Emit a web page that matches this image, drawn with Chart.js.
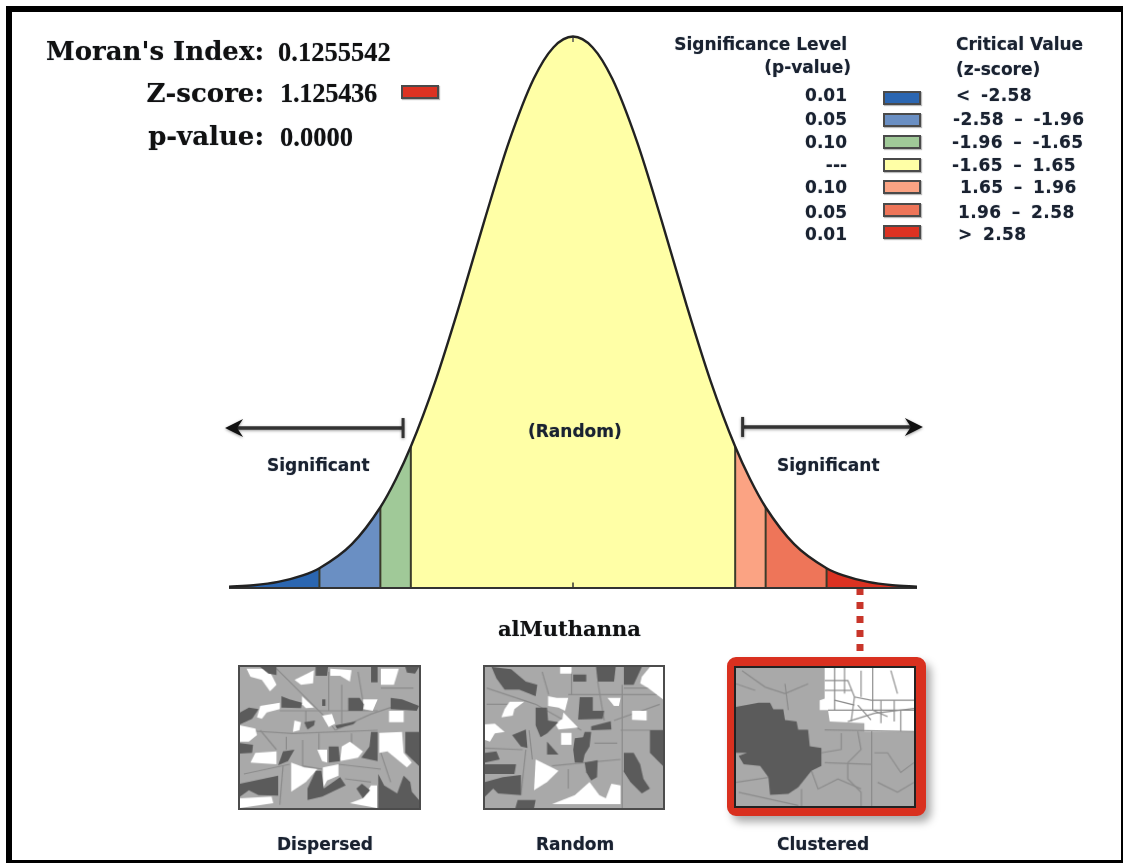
<!DOCTYPE html>
<html>
<head>
<meta charset="utf-8">
<title>Moran's Index</title>
<script src="https://cdn.jsdelivr.net/npm/chart.js@4"></script>
<style>
  html, body { margin: 0; padding: 0; background: #fff; }
  body { width: 1123px; height: 863px; position: relative; overflow: hidden; }
  #frame { position: absolute; left: 6px; top: 6px; width: 1109px; height: 848px; border: solid #000; border-width: 6px 2px 3px 6px; z-index: 3; pointer-events: none; }
  #curve { position: absolute; left: 0; top: 0; }
  .t { position: absolute; white-space: pre; line-height: 1; color: #1a2230; z-index: 2; text-shadow: 0 0 1px rgba(40,60,90,.55); }
  .sans { font: bold 17px "DejaVu Sans", sans-serif; }
  .row { letter-spacing: .4px; word-spacing: 4px; }
  .label { font: bold 26px "DejaVu Serif", serif; color: #111; }
  .num { font: bold 26.5px "Liberation Serif", serif; color: #111; }
  .sw { position: absolute; box-sizing: border-box; width: 38px; height: 14px; border: 2px solid #4a4a4a; box-shadow: 1px 1px 1px #bbb; z-index: 2; }
  .map { position: absolute; border: 2px solid #4c4c4c; z-index: 2; }
  #clusterBox { position: absolute; left: 727px; top: 657px; width: 199px; height: 159px; box-sizing: border-box; border: solid #d9301f; border-width: 9px 10px 8px 8px; border-radius: 9px; box-shadow: 5px 6px 8px #aaa; background: #fff; z-index: 1; }
</style>
</head>
<body>
<canvas id="curve" width="1123" height="863"></canvas>
<div id="frame"></div>
<div id="clusterBox"></div>
<canvas id="mapDispersed" class="map" style="left:238px;top:665px" width="183" height="145"></canvas>
<canvas id="mapRandom" class="map" style="left:483px;top:665px" width="182" height="145"></canvas>
<canvas id="mapClustered" class="map" style="left:734px;top:666px;border-color:#222" width="182" height="142"></canvas>
<script>
// curve, z-score against density
const zScores = [-3.5, -3.25, -3, -2.75, -2.58, -2.25, -1.96, -1.8, -1.65, -1.4, -1.15, -0.9, -0.65, -0.4, -0.2, 0, 0.2, 0.4, 0.65, 0.9, 1.15, 1.4, 1.65, 1.8, 1.96, 2.25, 2.58, 2.75, 3, 3.25, 3.5];
const density = [0.0009, 0.002, 0.0044, 0.0091, 0.0143, 0.0317, 0.0584, 0.079, 0.1023, 0.1497, 0.2059, 0.2661, 0.323, 0.3683, 0.391, 0.3989, 0.391, 0.3683, 0.323, 0.2661, 0.2059, 0.1497, 0.1023, 0.079, 0.0584, 0.0317, 0.0143, 0.0091, 0.0044, 0.002, 0.0009];

const zoneEdges = [-3.5, -2.58, -1.96, -1.65, 1.65, 1.96, 2.58, 3.5];
const zoneColors = ['#2b66b1', '#6a8fc3', '#a0c998', '#ffffa6', '#fba383', '#ee7559', '#dc3222'];

const pValues = ['0.01', '0.05', '0.10', '---', '0.10', '0.05', '0.01'];
const criticalValues = ['< -2.58', '-2.58 \u2013 -1.96', '-1.96 \u2013 -1.65', '-1.65 \u2013 1.65', '1.65 \u2013 1.96', '1.96 \u2013 2.58', '> 2.58'];

const markerZ = 2.92;
const markerDrop = [0, -0.0495];

// maps in crop coordinates
const dispersedWhite = [
  [[58,50],[125,50],[150,100],[130,120],[105,85],[70,75]],
  [[205,85],[265,55],[262,95],[225,100]],
  [[315,50],[380,55],[375,90],[345,72],[315,72]],
  [[470,50],[525,50],[510,100],[470,100]],
  [[228,135],[265,170],[240,172],[228,160]],
  [[415,145],[460,145],[445,180],[415,175]],
  [[100,165],[160,155],[160,175],[120,185],[105,205],[90,200]],
  [[495,180],[540,180],[540,215],[495,215]],
  [[290,195],[320,190],[330,220],[310,230]],
  [[205,210],[225,215],[220,240],[200,245]],
  [[38,225],[85,235],[90,255],[65,275],[38,275]],
  [[465,248],[535,245],[540,310],[565,340],[550,355],[490,305],[465,310]],
  [[350,290],[375,275],[395,290],[415,305],[400,325],[345,335]],
  [[85,310],[150,305],[150,345],[70,340]],
  [[275,300],[305,300],[305,340],[290,335]],
  [[195,340],[235,355],[275,360],[240,400],[195,430]],
  [[292,355],[340,345],[340,380],[305,395],[292,420]],
  [[38,450],[135,445],[140,465],[38,480]],
  [[440,410],[458,410],[458,480],[375,465],[415,450]]
];
const dispersedDark = [
  [[100,45],[150,45],[150,70],[125,65]],
  [[270,45],[308,45],[305,72],[270,72]],
  [[440,45],[460,45],[460,92],[440,92]],
  [[545,45],[587,45],[575,65],[550,62]],
  [[165,135],[190,145],[228,155],[225,172],[165,170]],
  [[290,145],[300,145],[300,165],[290,165]],
  [[370,140],[405,140],[418,160],[415,180],[368,180]],
  [[500,140],[535,145],[587,165],[580,180],[500,175]],
  [[38,185],[65,170],[95,175],[75,205],[38,222]],
  [[235,215],[268,210],[265,225],[245,238]],
  [[330,225],[395,212],[385,222],[335,235]],
  [[38,280],[78,285],[75,310],[38,312]],
  [[440,245],[460,245],[460,335],[410,325],[435,290]],
  [[545,245],[587,245],[587,350],[545,310]],
  [[170,305],[205,300],[185,335],[155,348]],
  [[310,290],[340,290],[345,335],[310,340]],
  [[38,405],[155,380],[155,442],[95,440],[65,425],[38,445]],
  [[270,365],[288,365],[295,420],[345,385],[362,410],[290,445],[245,455],[245,420]],
  [[395,420],[412,405],[437,425],[415,450]],
  [[462,375],[480,410],[520,435],[540,380],[560,400],[565,430],[587,455],[587,480],[462,480]]
];
const dispersedLines = [
  [[150,50],[230,130],[300,200],[330,240]], [[38,240],[200,250],[460,240]], [[310,60],[310,180]], [[400,60],[420,180]],
  [[330,240],[440,190],[500,170]], [[100,240],[150,300]], [[230,270],[230,350],[290,360]], [[180,260],[180,300]],
  [[50,375],[190,345]], [[170,350],[160,470]], [[340,345],[470,360]], [[360,390],[440,400]], [[280,250],[280,300]], [[380,250],[380,290]],
  [[160,180],[460,180]], [[350,100],[350,220]], [[240,180],[240,230]], [[470,110],[570,110]], [[470,310],[500,400]]
];

const randomWhite = [
  [[505,75],[530,45],[570,45],[570,145],[525,110],[500,95]],
  [[255,45],[290,45],[290,65],[255,65]],
  [[100,152],[145,152],[115,175],[110,195],[75,200],[85,175]],
  [[218,135],[245,140],[280,140],[270,180],[250,170],[218,165]],
  [[400,140],[440,140],[435,165],[420,165]],
  [[475,180],[520,180],[520,210],[475,208]],
  [[265,185],[310,232],[250,238],[240,220],[262,205]],
  [[25,222],[55,220],[85,245],[55,250],[40,275],[25,270]],
  [[258,248],[290,248],[290,285],[258,285]],
  [[180,330],[250,365],[215,400],[175,425]],
  [[230,468],[300,440],[345,400],[375,440],[395,450],[412,405],[440,410],[440,468]]
];
const randomDark = [
  [[45,45],[105,52],[150,90],[185,100],[180,135],[130,115],[85,115],[60,80]],
  [[295,68],[335,68],[335,90],[295,90]],
  [[365,45],[425,45],[420,90],[370,90]],
  [[450,45],[505,45],[480,100],[450,100]],
  [[315,138],[355,138],[355,180],[390,180],[385,205],[310,207]],
  [[180,170],[215,170],[218,210],[250,215],[215,250],[195,262],[180,225]],
  [[108,255],[150,238],[155,295],[135,290]],
  [[350,228],[410,212],[412,238],[350,240]],
  [[300,265],[325,262],[330,245],[350,245],[345,290],[330,315],[325,340],[300,340],[295,300]],
  [[215,275],[250,315],[215,315]],
  [[530,240],[570,240],[570,350],[530,310]],
  [[450,310],[480,310],[500,345],[510,390],[530,420],[505,435],[470,400],[448,365]],
  [[330,340],[370,332],[368,385],[350,395],[335,370]],
  [[25,310],[60,305],[70,330],[25,340]],
  [[25,345],[120,345],[115,375],[25,375]],
  [[25,400],[80,385],[135,378],[135,440],[65,435],[50,420],[25,445]],
  [[125,455],[180,455],[175,480],[118,480]]
];
const randomLines = [
  [[30,110],[180,160],[320,240]], [[25,295],[140,300]], [[445,100],[445,480]], [[290,60],[290,130]], [[370,90],[390,210]],
  [[420,210],[560,160]], [[150,300],[135,440]], [[230,350],[330,340],[440,330]], [[280,360],[280,420]], [[440,240],[570,240]], [[160,240],[170,330]],
  [[200,60],[220,130]], [[450,110],[565,110]], [[280,130],[560,130]], [[30,160],[100,160]], [[360,280],[430,280]]
];

const clusteredWhite = [
  [[330,52],[600,52],[600,245],[450,245],[450,220],[345,215],[340,180],[315,180],[315,150],[330,145]]
];
const clusteredDark = [
  [[62,170],[130,158],[165,158],[175,178],[205,178],[210,210],[245,215],[250,240],[280,240],[285,290],[320,295],[320,350],[290,365],[250,415],[220,435],[165,438],[160,385],[135,350],[85,345],[70,320],[95,310],[62,310]]
];
const clusteredLines = [
  [[330,90],[400,90],[420,140],[470,150],[600,150]], [[360,52],[360,180]], [[420,140],[410,215]], [[475,52],[475,180],[520,200]],
  [[340,180],[600,180]], [[500,150],[500,220]], [[560,180],[560,245]], [[400,215],[480,190],[600,175]], [[530,60],[550,130]],
  [[472,245],[472,472]], [[330,240],[600,245]], [[380,250],[380,300],[320,310]], [[330,340],[470,345]], [[400,340],[400,390],[440,430],[440,472]],
  [[290,365],[310,420],[370,390],[440,420]], [[480,310],[520,310],[560,370],[600,340]], [[490,400],[550,430],[600,400]], [[80,60],[150,110],[210,130],[280,100]],
  [[210,100],[220,180]], [[62,100],[120,120]], [[62,400],[160,385]], [[70,430],[160,450],[250,470]], [[260,420],[260,472]], [[430,245],[440,300],[400,340]],
  [[390,52],[390,130]], [[330,120],[410,120]], [[440,60],[440,140]], [[540,150],[540,215]], [[360,150],[420,165]], [[430,165],[470,210]]
];

function buildTexts() {
  const add = (txt, cls, x, y, align) => {
    const el = document.createElement('div');
    el.className = 't ' + cls;
    el.textContent = txt;
    el.style.top = y + 'px';
    if (align === 'right') el.style.right = (1123 - x) + 'px'; else el.style.left = x + 'px';
    document.body.appendChild(el);
  };
  add("Moran's Index:", 'label', 264, 36, 'right');
  add('Z-score:', 'label', 264, 78, 'right');
  add('p-value:', 'label', 264, 121, 'right');
  add('0.1255542', 'num', 278, 37);
  add('1.125436', 'num', 280, 78);
  document.body.lastChild.style.letterSpacing = '-0.3px';
  add('0.0000', 'num', 280, 122);
  add('Significance Level', 'sans', 847, 34, 'right');
  add('(p-value)', 'sans', 851, 57, 'right');
  add('Critical Value', 'sans', 956, 34);
  add('(z-score)', 'sans', 956, 59);
  add('(Random)', 'sans', 528, 421);
  add('Significant', 'sans', 267, 455);
  add('Significant', 'sans', 777, 455);
  add('Dispersed', 'sans', 277, 834);
  add('Random', 'sans', 536, 834);
  add('Clustered', 'sans', 777, 834);
  add('alMuthanna', 'label', 498, 616);
  document.body.lastChild.style.fontSize = '21px';

  const rowY = [85, 109, 132, 155, 177, 202, 224];
  const critX = [956, 953, 952, 952, 960, 958, 958];
  const swatchY = [91, 113, 135, 158, 180, 203, 225];
  pValues.forEach((p, i) => {
    add(p, 'sans', 847, rowY[i], 'right');
    add(criticalValues[i], 'sans row', critX[i], rowY[i]);
    const sw = document.createElement('div');
    sw.className = 'sw';
    sw.style.left = '883px';
    sw.style.top = swatchY[i] + 'px';
    sw.style.background = zoneColors[i];
    document.body.appendChild(sw);
  });
  const zs = document.createElement('div');
  zs.className = 'sw';
  zs.style.cssText = 'left:401px;top:85px;background:#dc3222';
  document.body.appendChild(zs);
}

function zonePoints(lo, hi) {
  const pts = [];
  zScores.forEach((z, i) => { if (z >= lo && z <= hi) pts.push({ x: z, y: density[i] }); });
  return pts;
}

const datasets = [];
// outline first so it sits on top of the fills
datasets.push({ data: zonePoints(-3.5, 3.5), borderColor: '#222', borderWidth: 2.4, cubicInterpolationMode: 'monotone', pointRadius: 0, fill: false });
datasets.push({ data: [{ x: -3.5, y: 0 }, { x: 3.5, y: 0 }], borderColor: '#333', borderWidth: 2, pointRadius: 0, fill: false, clip: false });
zoneEdges.slice(1, -1).forEach(z => {
  datasets.push({ data: [{ x: z, y: 0 }, { x: z, y: density[zScores.indexOf(z)] }], borderColor: '#3b3b2a', borderWidth: 2, pointRadius: 0, fill: false });
});
datasets.push({ data: [{ x: 0, y: 0 }, { x: 0, y: 0.004 }], borderColor: '#333', borderWidth: 1.5, pointRadius: 0, fill: false });
datasets.push({ data: [{ x: 0, y: 0.3989 }, { x: 0, y: 0.395 }], borderColor: '#555', borderWidth: 1.5, pointRadius: 0, fill: false });
datasets.push({ data: markerDrop.map(y => ({ x: markerZ, y })), borderColor: '#c8352a', borderWidth: 7, borderDash: [7, 7], pointRadius: 0, fill: false, clip: false });
zoneColors.forEach((c, i) => {
  datasets.push({ data: zonePoints(zoneEdges[i], zoneEdges[i + 1]), borderWidth: 0, backgroundColor: c, cubicInterpolationMode: 'monotone', pointRadius: 0, fill: 'origin' });
});

// the two "significant" arrows sit above the tails
const arrowPlugin = {
  id: 'arrows',
  afterDraw(chart) {
    const c = chart.ctx;
    const sx = chart.scales.x, sy = chart.scales.y;
    const draw = (z0, z1, dens) => {
      const x0 = sx.getPixelForValue(z0), x1 = sx.getPixelForValue(z1), y = sy.getPixelForValue(dens);
      const dir = x1 > x0 ? 1 : -1;
      c.save();
      c.shadowColor = 'rgba(0,0,0,0.4)';
      c.shadowBlur = 3;
      c.shadowOffsetY = 1;
      c.strokeStyle = '#333';
      c.fillStyle = '#111';
      c.lineWidth = 3.5;
      c.beginPath(); c.moveTo(x0, y); c.lineTo(x1 - dir * 8, y); c.stroke();
      c.lineWidth = 3;
      c.beginPath(); c.moveTo(x0, y - 10); c.lineTo(x0, y + 10); c.stroke();
      c.beginPath();
      c.moveTo(x1, y);
      c.lineTo(x1 - dir * 18, y - 9);
      c.lineTo(x1 - dir * 12, y);
      c.lineTo(x1 - dir * 18, y + 9);
      c.closePath();
      c.fill();
      c.restore();
    };
    draw(-1.729, -3.54, 0.1157);
    draw(1.726, 3.56, 0.1165);
  }
};

new Chart(document.getElementById('curve'), {
  type: 'scatter',
  data: { datasets },
  plugins: [arrowPlugin],
  options: {
    responsive: false,
    animation: false,
    showLine: true,
    layout: { padding: { left: 229, right: 206, top: 35, bottom: 275 } },
    plugins: { legend: { display: false }, tooltip: { enabled: false } },
    scales: {
      x: { type: 'linear', display: false, min: -3.5, max: 3.5 },
      y: { type: 'linear', display: false, min: 0, max: 0.4 }
    }
  }
});

function poly(p, color) {
  return { data: p.concat([p[0]]).map(a => ({ x: a[0], y: a[1] })), borderWidth: 0, backgroundColor: color, pointRadius: 0, fill: 'shape' };
}
function seam(p, color) {
  return { data: p.map(a => ({ x: a[0], y: a[1] })), borderColor: color, borderWidth: 1.2, pointRadius: 0, fill: false };
}

// later datasets are painted first, so list the topmost first
function drawMap(id, xr, yr, white, dark, lines, linesOnWhite) {
  const sets = [];
  dark.forEach(p => sets.push(poly(p, '#5b5b5b')));
  if (!linesOnWhite) white.forEach(p => sets.push(poly(p, '#ffffff')));
  lines.forEach(p => sets.push(seam(p, '#8b8b8b')));
  if (linesOnWhite) white.forEach(p => sets.push(poly(p, '#ffffff')));
  const el = document.getElementById(id);
  el.style.background = '#a9a9a9';
  new Chart(el, {
    type: 'scatter',
    data: { datasets: sets },
    options: {
      responsive: false,
      animation: false,
      showLine: true,
      plugins: { legend: { display: false }, tooltip: { enabled: false } },
      scales: {
        x: { type: 'linear', display: false, min: xr[0], max: xr[1] },
        y: { type: 'linear', display: false, reverse: true, min: yr[0], max: yr[1] }
      }
    }
  });
}

buildTexts();
drawMap('mapDispersed', [38, 587], [45, 480], dispersedWhite, dispersedDark, dispersedLines, false);
drawMap('mapRandom', [25, 570], [45, 480], randomWhite, randomDark, randomLines, false);
drawMap('mapClustered', [62, 600], [52, 472], clusteredWhite, clusteredDark, clusteredLines, true);
</script>
</body>
</html>
